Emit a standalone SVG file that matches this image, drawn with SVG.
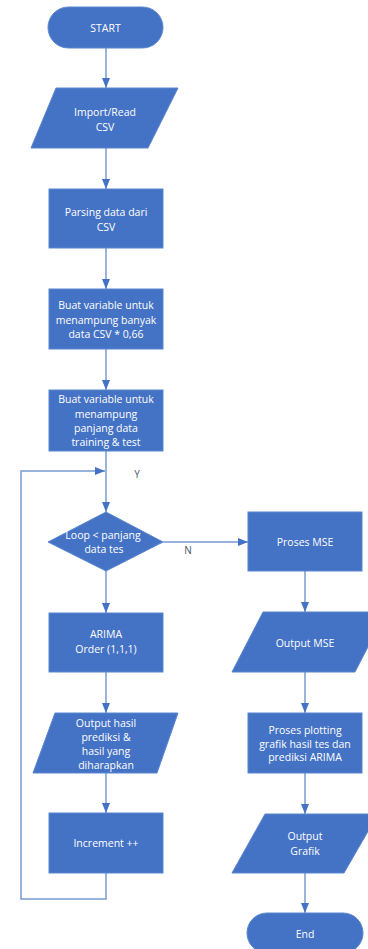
<svg xmlns="http://www.w3.org/2000/svg" width="368" height="949" viewBox="0 0 368 949">
<defs>
<style>
.n{fill:#4472C4;stroke:#5B86CE;stroke-width:1}
.t{fill:#ffffff;font-family:"Open Sans","Liberation Sans",sans-serif;font-size:10.5px;text-anchor:middle}
.c{fill:none;stroke:#7A9BD3;stroke-width:1.5}
.l{fill:#4A5568;font-family:"Open Sans","Liberation Sans",sans-serif;font-size:10px;text-anchor:middle}
</style>
<marker id="ah" markerWidth="10" markerHeight="8" refX="10" refY="4" orient="auto" markerUnits="userSpaceOnUse">
<path d="M0,0 L10,4 L0,8 Z" fill="#4472C4"/>
</marker>
</defs>
<rect width="368" height="949" fill="#ffffff"/>
<g id="connectors">
<line class="c" x1="106" y1="48" x2="106" y2="88" marker-end="url(#ah)"/>
<line class="c" x1="106" y1="148" x2="106" y2="189" marker-end="url(#ah)"/>
<line class="c" x1="106" y1="248" x2="106" y2="289" marker-end="url(#ah)"/>
<line class="c" x1="106" y1="349" x2="106" y2="390" marker-end="url(#ah)"/>
<line class="c" x1="106" y1="451" x2="106" y2="512" marker-end="url(#ah)"/>
<polyline class="c" points="106,873 106,899 21,899 21,471 105,471" marker-end="url(#ah)"/>
<line class="c" x1="106" y1="571" x2="106" y2="613" marker-end="url(#ah)"/>
<line class="c" x1="106" y1="672" x2="106" y2="713" marker-end="url(#ah)"/>
<line class="c" x1="106" y1="773" x2="106" y2="813" marker-end="url(#ah)"/>
<line class="c" x1="163" y1="542" x2="248" y2="542" marker-end="url(#ah)"/>
<line class="c" x1="305" y1="571" x2="305" y2="612" marker-end="url(#ah)"/>
<line class="c" x1="305" y1="672" x2="305" y2="713" marker-end="url(#ah)"/>
<line class="c" x1="305" y1="773" x2="305" y2="814" marker-end="url(#ah)"/>
<line class="c" x1="305" y1="873" x2="305" y2="913" marker-end="url(#ah)"/>
<text class="l" x="137" y="478">Y</text>
<text class="l" x="188" y="554">N</text>
</g>
<g id="start">
<rect class="n" x="48" y="7" width="115" height="41" rx="20.5"/>
<text class="t" x="105.5" y="31.5">START</text>
</g>
<g id="import">
<polygon class="n" points="56,88 178,88 148,148 31,148"/>
<text class="t" x="105" y="116">Import/Read</text>
<text class="t" x="105" y="131">CSV</text>
</g>
<g id="parsing">
<rect class="n" x="49" y="189" width="114" height="59"/>
<text class="t" x="106" y="216">Parsing data dari</text>
<text class="t" x="106" y="231">CSV</text>
</g>
<g id="var1">
<rect class="n" x="49" y="289" width="114" height="60"/>
<text class="t" x="106" y="309">Buat variable untuk</text>
<text class="t" x="106" y="323.5">menampung banyak</text>
<text class="t" x="106" y="338">data CSV * 0,66</text>
</g>
<g id="var2">
<rect class="n" x="49" y="390" width="114" height="61"/>
<text class="t" x="106" y="403">Buat variable untuk</text>
<text class="t" x="106" y="417.5">menampung</text>
<text class="t" x="106" y="432">panjang data</text>
<text class="t" x="106" y="446">training &amp; test</text>
</g>
<g id="loop">
<polygon class="n" points="106,512 163,542 106,571 48,542"/>
<text class="t" x="103" y="539">Loop &lt; panjang</text>
<text class="t" x="104" y="553">data tes</text>
</g>
<g id="arima">
<rect class="n" x="49" y="613" width="114" height="59"/>
<text class="t" x="106" y="638">ARIMA</text>
<text class="t" x="106" y="653">Order (1,1,1)</text>
</g>
<g id="output-hasil">
<polygon class="n" points="55,713 178,713 157,773 33,773"/>
<text class="t" x="106" y="727">Output hasil</text>
<text class="t" x="106" y="741">prediksi &amp;</text>
<text class="t" x="106" y="755">hasil yang</text>
<text class="t" x="106" y="768.5">diharapkan</text>
</g>
<g id="increment">
<rect class="n" x="49" y="813" width="114" height="60"/>
<text class="t" x="106" y="847">Increment ++</text>
</g>
<g id="mse">
<rect class="n" x="248" y="512" width="114" height="59"/>
<text class="t" x="305" y="546">Proses MSE</text>
</g>
<g id="output-mse">
<polygon class="n" points="263,612 386,612 355,672 232,672"/>
<text class="t" x="305" y="647">Output MSE</text>
</g>
<g id="plotting">
<rect class="n" x="248" y="713" width="114" height="60"/>
<text class="t" x="305" y="734">Proses plotting</text>
<text class="t" x="305" y="747.5">grafik hasil tes dan</text>
<text class="t" x="305" y="761">prediksi ARIMA</text>
</g>
<g id="output-grafik">
<polygon class="n" points="265,814 378,814 344,873 232,873"/>
<text class="t" x="305" y="840">Output</text>
<text class="t" x="305" y="855">Grafik</text>
</g>
<g id="end">
<rect class="n" x="247" y="913" width="116" height="40" rx="20"/>
<text class="t" x="305" y="938">End</text>
</g>
</svg>
